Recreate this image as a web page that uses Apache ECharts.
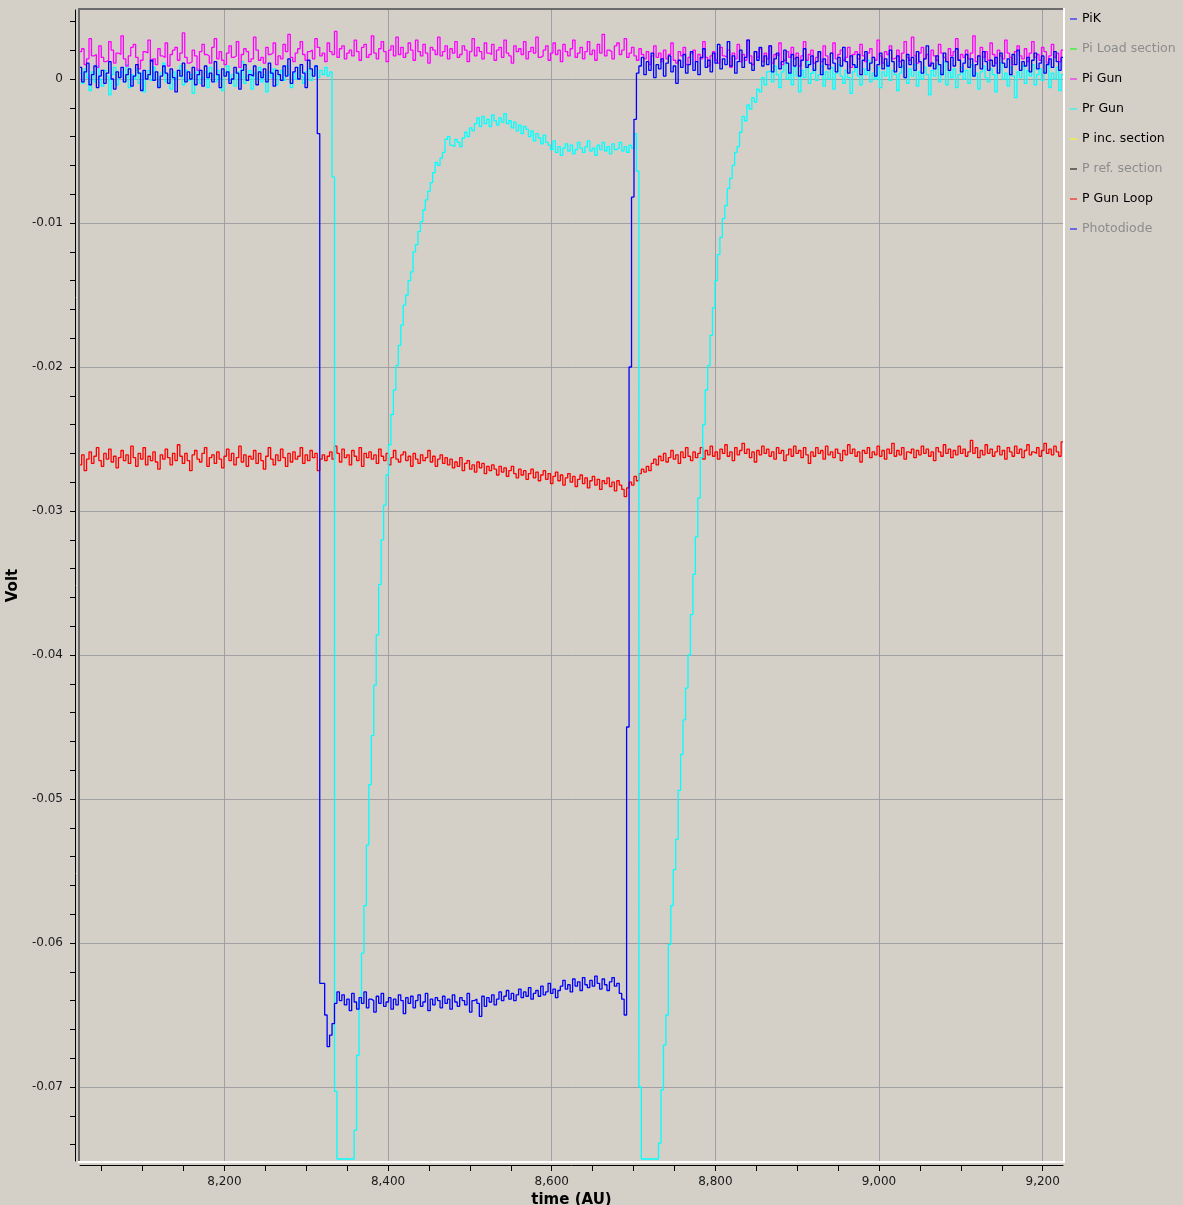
<!DOCTYPE html>
<html>
<head>
<meta charset="utf-8">
<script src="https://cdn.jsdelivr.net/npm/echarts@6/dist/echarts.min.js"></script>
<style>
html,body{margin:0;padding:0;background:#d4d0c8;}
#chart{width:1183px;height:1205px;}
</style>
</head>
<body>
<div id="chart"></div>
<script>
// ---------- DATA (values in mV, sampled every DT time units from T0) ----------
const T0 = 8022.5, DT = 3;

const legendNames = ['PiK', 'Pi Load section', 'Pi Gun', 'Pr Gun', 'P inc. section', 'P ref. section', 'P Gun Loop', 'Photodiode'];
const legendDimmed = ['Pi Load section', 'P ref. section', 'Photodiode'];

const xTickValues = [8050, 8100, 8150, 8200, 8250, 8300, 8350, 8400, 8450, 8500, 8550, 8600, 8650, 8700, 8750, 8800, 8850, 8900, 8950, 9000, 9050, 9100, 9150, 9200];
const xLabelValues = [8200, 8400, 8600, 8800, 9000, 9200];
const yTickValues = [0.004, 0.002, 0, -0.002, -0.004, -0.006, -0.008, -0.01, -0.012, -0.014, -0.016, -0.018, -0.02, -0.022, -0.024, -0.026, -0.028, -0.03, -0.032, -0.034, -0.036, -0.038, -0.04, -0.042, -0.044, -0.046, -0.048, -0.05, -0.052, -0.054, -0.056, -0.058, -0.06, -0.062, -0.064, -0.066, -0.068, -0.07, -0.072, -0.074];
const yLabelValues = [0, -0.01, -0.02, -0.03, -0.04, -0.05, -0.06, -0.07];

// PiK (blue)
const pikMV = [
0.8,-0.2,0.5,1.1,-0.4,0.3,0.9,-0.6,0.2,0.6,
-0.3,0.4,1.2,0.0,-0.7,0.5,0.1,0.8,-0.2,0.3,
0.7,-0.5,0.2,1.0,0.4,-0.8,0.6,0.0,0.3,1.3,
-0.1,0.5,-0.6,0.2,0.9,0.4,-0.3,0.7,0.1,-0.9,
0.6,0.2,1.1,-0.2,0.5,0.0,0.8,-0.4,0.3,0.6,
-0.5,0.9,0.1,0.4,-0.2,1.2,0.3,-0.6,0.7,0.2,
0.5,-0.3,0.0,0.8,0.4,-0.7,0.6,1.0,-0.1,0.3,
0.2,0.9,-0.4,0.5,0.1,0.7,-0.2,1.1,0.4,-0.5,
0.6,0.3,-0.1,0.9,0.2,1.4,-0.3,0.5,0.8,0.0,
1.0,0.4,-0.6,1.3,0.7,0.2,0.9,
-3.8,
-62.8,-62.8,-65.0,-67.2,-66.4,-65.6,-64.2,-63.4,-64.0,
-63.6,-64.3,-63.9,-64.7,-63.5,-64.1,-64.6,-63.8,-64.2,-63.4,
-64.5,-63.9,-64.0,-64.8,-63.7,-64.2,-63.5,-64.4,-64.1,-63.8,
-64.6,-63.9,-64.3,-63.6,-64.0,-64.9,-63.8,-64.2,-63.7,-64.5,
-64.0,-63.6,-64.4,-64.1,-63.5,-64.7,-63.9,-64.3,-63.8,-64.0,
-64.5,-63.7,-64.2,-63.9,-64.6,-63.6,-64.1,-64.4,-63.8,-64.0,
-64.3,-63.5,-64.8,-64.0,-63.9,-64.2,-65.1,-63.7,-64.4,-63.8,
-64.1,-63.6,-64.3,-63.9,-63.4,-64.0,-63.7,-63.3,-63.9,-63.5,
-64.0,-63.6,-63.2,-63.8,-63.4,-63.7,-63.1,-63.9,-63.5,-63.3,
-63.7,-63.0,-63.6,-63.4,-62.8,-63.5,-63.2,-63.8,-63.3,-63.0,
-62.6,-63.2,-62.9,-63.4,-62.5,-63.0,-62.7,-63.3,-62.4,-62.9,
-63.1,-62.6,-63.0,-62.3,-62.8,-63.2,-62.5,-62.9,-63.3,-62.7,
-62.4,-63.0,-62.8,-63.5,-63.9,
-65.0,-45.0,-20.0,-8.2,-2.8,0.4,
0.9,1.5,0.3,1.2,0.6,1.8,0.1,1.0,0.7,1.4,
0.2,1.1,1.6,0.5,0.9,-0.3,1.3,0.8,1.7,0.4,
1.0,1.9,0.6,1.2,0.3,1.5,2.1,0.8,1.3,0.5,
1.8,1.1,2.4,0.7,1.4,1.0,2.6,0.9,1.6,0.4,
1.2,2.0,0.8,1.5,2.7,1.1,0.6,1.9,1.3,2.2,
0.9,1.6,1.0,2.3,0.5,1.4,1.8,0.7,1.2,2.0,
1.1,0.4,1.7,0.9,1.5,0.2,1.3,2.1,0.8,1.0,
1.6,0.6,1.2,1.9,0.3,1.4,1.0,0.7,1.8,1.1,
0.5,1.5,0.9,2.2,1.2,0.4,1.6,1.0,0.8,1.7,
0.3,1.3,1.9,0.6,1.1,1.5,0.2,1.0,1.8,0.7,
1.4,0.9,2.0,1.2,0.5,1.6,0.8,1.3,0.1,1.7,
1.0,1.5,0.6,1.9,1.2,0.4,1.4,2.3,0.9,1.1,
0.7,1.6,1.0,0.3,1.8,1.2,0.6,1.5,0.9,2.1,
1.3,0.5,1.1,1.7,0.8,1.4,0.2,1.0,1.6,0.7,
1.9,1.2,0.6,1.3,0.9,1.5,0.4,1.8,1.1,0.8,
1.4,0.3,1.7,1.0,2.0,0.6,1.2,0.9,1.5,0.5,
1.3,1.8,0.7,1.1,1.6,0.4,1.0,1.4,0.8,1.9,
1.2,0.6,1.5,1.0
];

// Pr Gun (cyan)
const prGunMV = [
0.4,-0.3,0.7,0.1,-0.8,0.5,-0.2,0.9,0.0,-0.5,
0.6,0.2,-1.1,0.3,0.8,-0.4,0.1,0.5,-0.2,1.0,
-0.6,0.3,0.0,0.7,-0.3,0.4,-0.9,0.2,0.6,-0.1,
0.8,0.1,-0.5,0.4,1.1,-0.2,0.3,-0.7,0.5,0.0,
0.2,0.9,-0.4,0.6,-0.1,0.3,-1.0,0.4,0.7,-0.3,
0.1,0.5,-0.6,0.8,0.2,-0.2,0.6,0.0,-0.8,0.4,
0.9,-0.1,0.3,-0.5,0.5,0.1,1.2,-0.3,0.2,0.6,
-0.7,0.4,0.0,0.8,-0.2,0.3,-0.9,0.5,0.1,0.7,
-0.4,0.2,0.6,-0.1,0.9,0.3,-0.6,0.4,0.0,0.8,
0.2,-0.3,0.5,0.7,-0.1,0.4,0.9,0.1,0.6,0.3,
0.8,0.2,0.5,
-6.8,-70.3,
-75.0,-75.0,-75.0,-75.0,-75.0,-75.0,-75.0,
-73.0,-67.8,-64.0,-60.7,-57.4,-53.2,-49.0,-45.6,-42.1,-38.6,
-35.1,-32.0,-29.6,-27.5,-25.4,-23.3,-21.6,-19.9,-18.5,-17.1,
-15.7,-15.0,-14.0,-13.4,-12.0,-11.5,-10.6,-9.9,-9.1,-8.4,
-7.8,-7.2,-6.5,-5.8,-6.0,-5.5,-5.1,-4.2,-4.0,-4.6,
-4.7,-4.2,-4.4,-4.7,-4.1,-3.7,-4.0,-3.4,-3.6,-3.1,
-2.7,-3.3,
-2.6,-3.1,-2.8,-3.3,-2.5,-2.9,-3.2,-2.7,-3.0,-2.4,-3.1,
-2.9,-3.4,-3.0,-3.6,-3.2,-3.8,-3.3,-3.5,-4.0,-3.6,-4.3,-3.8,-4.1,-4.5,-3.9,-4.4,
-4.6,-4.9,-4.3,-5.1,-4.7,-5.3,-4.8,-4.5,-5.0,-4.6,
-5.2,-4.9,-4.4,-4.8,-5.1,-4.7,-4.3,-5.0,-4.8,-5.3,
-4.6,-4.9,-4.4,-5.0,-4.7,-5.2,-4.5,-4.9,-4.8,-4.4,
-5.0,-4.7,-5.1,-4.6,-4.8,
-3.8,-6.4,-70.0,
-75.0,-75.0,-75.0,-75.0,-75.0,-75.0,-75.0,
-73.9,-70.2,-67.1,-65.0,-60.1,-57.4,-54.9,-52.8,-49.4,-46.9,
-44.5,-42.3,-40.0,-37.2,-34.4,-31.8,-29.1,-26.3,-24.0,-21.6,
-19.9,-17.8,-15.9,-14.0,-12.2,-11.0,-9.7,-8.8,-7.6,-6.9,
-6.0,-5.1,-4.7,-3.7,-2.6,-2.9,-1.8,-2.1,-1.3,-1.6,
-0.7,-0.9,0.1,-0.4,0.5,
0.6,-0.2,0.9,0.3,-0.6,0.5,1.1,0.0,0.4,-0.4,
0.8,0.2,-0.9,0.6,0.1,1.2,-0.3,0.4,0.7,-0.1,
0.3,0.9,-0.5,0.5,0.0,0.8,-0.7,0.4,1.0,0.2,
-0.3,0.6,0.1,-1.0,0.5,0.9,0.2,-0.4,0.7,0.3,
1.3,-0.2,0.4,0.0,0.8,-0.6,0.5,0.2,1.1,-0.1,
0.6,0.3,-0.8,0.4,0.9,0.1,-0.3,0.7,0.2,1.0,
-0.5,0.5,0.0,0.8,0.3,-1.1,0.6,0.2,0.9,-0.2,
0.4,1.2,-0.4,0.5,0.1,0.7,-0.6,0.3,0.8,0.0,
0.6,-0.3,1.0,0.2,0.4,-0.7,0.5,0.9,0.1,-0.2,
0.7,0.3,-0.9,0.6,1.1,0.0,0.4,-0.5,0.8,0.2,
-1.3,0.5,0.1,0.9,-0.3,0.6,0.2,1.0,-0.4,0.3,
0.7,-0.1,0.5,1.2,-0.6,0.4,0.0,0.8,-0.8,0.3,
0.6
];

// Pi Gun (magenta)
const piGunMV = [
1.9,2.1,1.0,1.4,2.8,1.6,1.7,0.8,2.3,1.5,
1.2,1.3,2.6,2.0,1.1,1.8,1.7,3.0,1.4,0.9,
1.6,2.2,2.4,1.5,0.7,1.3,1.9,1.8,2.7,1.2,
1.4,1.0,2.1,1.6,1.5,2.5,0.9,1.7,2.0,2.2,
1.3,1.8,3.2,1.5,1.1,1.2,2.0,1.6,0.6,1.9,
2.4,1.7,1.6,1.1,2.2,2.8,1.4,1.9,1.3,1.0,
1.8,2.3,1.5,1.6,2.6,0.8,1.7,2.1,1.9,1.2,
1.4,2.9,2.0,1.3,1.5,1.1,2.2,1.7,1.8,2.5,
1.0,1.6,1.4,2.4,1.9,3.1,1.5,1.2,1.8,2.1,
2.6,1.7,1.3,1.9,2.0,1.4,2.8,2.2,1.6,1.8,
1.2,2.5,1.9,1.7,3.3,1.5,2.1,2.3,1.4,1.8,
2.0,1.6,2.7,1.9,1.3,2.2,2.4,1.5,1.7,3.0,
1.8,1.4,2.1,2.6,1.9,1.2,2.0,2.3,1.6,2.9,
1.7,2.2,1.5,1.8,2.5,2.0,1.3,2.7,1.9,1.6,
2.4,1.8,1.1,2.2,2.0,1.7,2.9,1.6,1.9,2.3,
1.4,2.1,1.8,2.6,1.5,1.7,2.3,2.0,1.2,1.9,
2.8,1.6,2.2,1.9,1.4,2.5,1.8,1.7,2.4,1.3,
2.0,2.2,1.5,2.7,1.8,1.6,1.1,2.3,1.9,2.1,
1.7,2.6,1.4,1.9,2.2,1.8,2.9,1.5,1.6,2.0,
2.3,1.3,1.8,2.5,1.7,2.0,1.2,2.4,1.9,1.6,
2.1,2.7,1.5,1.8,2.2,1.4,1.9,2.6,1.7,2.0,
1.3,2.4,1.8,3.1,1.6,2.0,1.9,1.4,2.3,2.5,
1.7,2.0,2.8,1.5,1.8,2.2,1.6,1.3,2.1,1.7,
1.4,1.9,1.0,1.6,2.3,1.5,1.8,1.2,2.0,1.4,
1.7,2.5,1.3,1.1,1.9,1.6,2.2,1.0,1.5,1.8,
2.0,1.2,1.7,1.4,2.6,1.5,0.9,1.6,1.9,1.3,
1.1,2.2,1.6,1.5,2.0,0.8,1.8,1.4,2.4,1.2,
1.7,1.3,2.7,1.6,1.0,1.9,1.5,2.1,1.2,1.8,
1.4,2.3,1.1,1.7,1.6,2.5,1.0,1.3,1.9,1.5,
2.2,1.4,1.8,0.9,1.6,2.6,1.3,1.7,2.0,1.1,
1.5,1.9,1.2,2.3,1.6,1.0,1.8,2.5,1.4,1.7,
2.0,1.3,1.5,2.2,0.8,1.7,1.9,1.4,2.4,1.6,
1.2,1.8,2.1,1.5,1.3,2.7,1.6,1.1,1.9,1.7,
2.3,1.4,1.5,2.0,1.2,1.8,2.6,1.5,1.3,2.9,
1.6,1.1,1.8,2.2,1.4,1.7,1.0,2.0,1.6,1.3,
2.4,1.8,1.5,1.2,2.1,1.6,1.9,2.8,1.3,1.7,
1.5,2.0,1.4,1.8,3.0,1.2,1.6,2.2,1.5,1.9,
1.3,2.5,1.7,1.1,2.0,1.6,1.4,2.7,1.8,1.5,
1.0,1.9,2.3,1.6,1.4,2.1,1.2,1.8,2.6,1.5,
1.7,1.3,2.2,1.9,1.1,1.6,2.4,1.5,1.8,1.2,
2.0,1.6
];

// P Gun Loop (red)
const pGunLoopMV = [
-26.8,-26.1,-27.2,-26.4,-25.9,-26.7,-26.2,-25.6,-26.5,-26.9,
-26.0,-26.4,-25.7,-26.6,-26.2,-27.0,-26.3,-25.8,-26.5,-26.1,
-26.7,-25.5,-26.3,-26.9,-26.0,-26.4,-25.6,-26.8,-26.2,-26.5,
-25.9,-26.6,-27.1,-26.1,-26.4,-25.7,-26.3,-26.8,-26.0,-26.5,
-25.4,-26.2,-26.7,-26.0,-26.5,-27.2,-26.1,-25.8,-26.4,-26.6,
-26.0,-25.6,-26.9,-26.3,-26.1,-26.7,-25.9,-26.4,-27.0,-26.2,
-25.7,-26.5,-26.0,-26.8,-26.3,-25.5,-26.6,-26.1,-26.9,-26.2,
-26.4,-25.8,-26.7,-26.0,-26.5,-27.1,-26.2,-25.6,-26.4,-26.8,
-26.1,-26.5,-25.7,-26.3,-26.9,-26.0,-26.6,-25.9,-26.4,-26.2,
-25.6,-26.7,-26.1,-26.5,-25.8,-26.3,-26.0,-27.2,-26.4,-26.1,
-26.5,-26.2,-25.9,-26.4,-25.5,-26.0,-26.6,-25.7,-26.3,-26.1,
-26.8,-25.8,-26.2,-26.5,-25.6,-26.9,-26.0,-26.3,-25.9,-26.4,
-26.1,-26.7,-25.7,-26.2,-26.5,-26.0,-26.8,-26.3,-25.8,-26.4,
-26.6,-26.1,-25.9,-26.5,-26.2,-26.9,-26.0,-26.4,-26.7,-26.1,
-26.5,-26.3,-25.8,-26.6,-26.2,-26.9,-26.4,-26.1,-26.7,-26.3,
-26.8,-26.4,-27.0,-26.6,-26.9,-26.3,-27.2,-26.7,-26.5,-27.1,
-26.8,-27.3,-26.6,-27.0,-26.7,-27.4,-26.9,-27.2,-26.8,-27.1,
-27.5,-26.9,-27.3,-27.0,-27.6,-27.2,-26.9,-27.4,-27.7,-27.1,
-27.5,-27.2,-27.8,-27.4,-27.1,-27.7,-27.3,-27.9,-27.5,-27.2,
-27.8,-27.4,-28.1,-27.6,-27.3,-27.9,-27.5,-28.2,-27.7,-27.4,
-28.0,-27.6,-28.3,-27.8,-27.5,-28.1,-27.7,-28.4,-27.9,-27.6,
-28.2,-27.8,-28.5,-27.9,-28.1,-27.7,-28.3,-28.0,-28.6,-27.9,
-28.2,-28.5,-29.0,-28.4,-28.0,-28.2,-27.6,-27.9,-27.4,-27.1,
-27.3,-26.9,-27.2,-26.7,-26.4,-26.8,-26.2,-26.5,-26.0,-26.6,
-26.3,-25.8,-26.4,-26.1,-26.7,-25.9,-26.3,-25.6,-26.2,-26.5,
-25.9,-26.3,-26.0,-25.6,-26.4,-25.8,-26.1,-25.5,-26.2,-25.9,
-26.4,-25.7,-26.0,-25.4,-26.2,-25.9,-26.5,-25.6,-26.1,-25.8,
-25.3,-26.0,-25.7,-26.3,-25.9,-26.6,-25.8,-26.1,-25.5,-26.0,
-25.7,-26.2,-25.9,-26.4,-25.6,-26.0,-25.8,-26.5,-26.1,-25.7,
-26.2,-25.5,-26.0,-25.8,-26.3,-25.6,-26.1,-26.7,-25.9,-26.2,
-25.6,-26.0,-25.8,-26.4,-25.5,-26.1,-25.9,-26.3,-25.7,-26.0,
-26.5,-25.8,-26.1,-25.4,-26.0,-25.7,-26.2,-25.9,-26.6,-25.8,
-26.0,-25.6,-26.3,-25.9,-26.1,-25.5,-26.2,-25.8,-26.4,-25.7,
-26.0,-25.3,-26.2,-25.8,-26.1,-25.6,-26.4,-25.9,-26.0,-25.7,
-26.3,-25.8,-26.1,-25.5,-26.0,-25.7,-26.2,-25.9,-26.5,-25.6,
-25.9,-26.2,-25.4,-26.0,-25.7,-26.3,-25.8,-26.1,-25.5,-26.0,
-25.7,-26.2,-25.9,-25.1,-26.0,-25.6,-26.3,-25.8,-26.1,-25.4,
-26.0,-25.7,-26.2,-25.9,-25.5,-26.1,-25.8,-26.4,-25.6,-25.9,
-26.2,-25.5,-26.0,-25.7,-26.3,-25.8,-25.4,-26.1,-25.9,-26.0,
-25.6,-26.2,-25.8,-25.3,-26.0,-25.7,-26.1,-25.5,-25.9,-26.2,
-25.2,-26.0
];

// Series without a visible trace in the picture
const piLoadMV = [];
const pIncMV = [];
const pRefMV = [];
const photodiodeMV = [];

// ---------- BUILD ----------
const toPairs = mv => mv.map((v, i) => [T0 + i * DT, v / 1000]);

const colors = {
  'PiK': '#0000ff', 'Pi Load section': '#00ff00', 'Pi Gun': '#ff00ff', 'Pr Gun': '#00ffff',
  'P inc. section': '#ffff00', 'P ref. section': '#000000', 'P Gun Loop': '#ff0000', 'Photodiode': '#0000ff'
};
const seriesData = {
  'PiK': pikMV, 'Pi Load section': piLoadMV, 'Pi Gun': piGunMV, 'Pr Gun': prGunMV,
  'P inc. section': pIncMV, 'P ref. section': pRefMV, 'P Gun Loop': pGunLoopMV, 'Photodiode': photodiodeMV
};
// draw order: later = on top
const drawOrder = ['Photodiode', 'P ref. section', 'P inc. section', 'P Gun Loop', 'Pr Gun', 'Pi Gun', 'Pi Load section', 'PiK'];

const FONT = 'DejaVu Sans';
const GRID = { left: 80, top: 10, width: 983, height: 1151 };
const X_MIN = 8023.5, X_MAX = 9224.8;
const Y_MIN = -0.07514, Y_MAX = 0.00479;

const chart = echarts.init(document.getElementById('chart'), null, { renderer: 'canvas' });

const option = {
  backgroundColor: '#d4d0c8',
  animation: false,
  textStyle: { fontFamily: FONT },
  grid: Object.assign({ show: false, containLabel: false, outerBoundsMode: 'none' }, GRID),
  legend: {
    orient: 'vertical',
    left: 1070,
    top: 11,
    padding: 0,
    icon: 'rect',
    itemWidth: 7,
    itemHeight: 1,
    itemGap: 14,
    selectedMode: false,
    textStyle: { fontFamily: FONT, fontSize: 12.5, color: '#000', lineHeight: 16 },
    data: legendNames.map(n => legendDimmed.includes(n)
      ? { name: n, textStyle: { color: '#8c8c8c' } }
      : { name: n })
  },
  xAxis: [
    {
      type: 'value', min: X_MIN, max: X_MAX, position: 'bottom', offset: 4,
      axisLine: { show: true, onZero: false, lineStyle: { color: '#000', width: 1 } },
      axisTick: { show: true, length: 6, customValues: xTickValues, lineStyle: { color: '#000' } },
      axisLabel: {
        customValues: xLabelValues, margin: 11, fontSize: 12, fontFamily: FONT, color: '#1a1a1a',
        formatter: v => Number(v).toLocaleString('en-US')
      },
      splitLine: { show: false },
      name: 'time (AU)', nameLocation: 'middle', nameGap: 22,
      nameTextStyle: { fontFamily: FONT, fontSize: 15, fontWeight: 'bold', color: '#000' }
    },
    {
      type: 'value', min: X_MIN, max: X_MAX, position: 'bottom', splitNumber: 6,
      axisLine: { show: false }, axisLabel: { show: false },
      axisTick: { show: false, customValues: xLabelValues },
      splitLine: { show: true, lineStyle: { color: '#a0a0a4', width: 1 } }
    }
  ],
  yAxis: [
    {
      type: 'value', min: Y_MIN, max: Y_MAX, position: 'left', offset: 5,
      axisLine: { show: true, onZero: false, lineStyle: { color: '#000', width: 1 } },
      axisTick: { show: true, length: 5, customValues: yTickValues, lineStyle: { color: '#000' } },
      axisLabel: {
        customValues: yLabelValues, margin: 12, fontSize: 12, fontFamily: FONT, color: '#1a1a1a',
        formatter: v => (Math.abs(v) < 1e-9 ? '0' : Number(v).toFixed(2))
      },
      splitLine: { show: false },
      name: 'Volt', nameLocation: 'middle', nameGap: 45,
      nameTextStyle: { fontFamily: FONT, fontSize: 15, fontWeight: 'bold', color: '#000' }
    },
    {
      type: 'value', min: Y_MIN, max: Y_MAX, position: 'left', splitNumber: 8,
      axisLine: { show: false }, axisLabel: { show: false },
      axisTick: { show: false, customValues: yLabelValues },
      splitLine: { show: true, lineStyle: { color: '#a0a0a4', width: 1 } }
    }
  ],
  graphic: [
    { type: 'rect', silent: true, z: 50, shape: { x: 78, y: 8, width: 986, height: 2 }, style: { fill: '#6b6b6b' } },
    { type: 'rect', silent: true, z: 50, shape: { x: 78, y: 8, width: 2, height: 1155 }, style: { fill: '#6b6b6b' } },
    { type: 'rect', silent: true, z: 50, shape: { x: 78, y: 1161, width: 987, height: 2 }, style: { fill: '#ffffff' } },
    { type: 'rect', silent: true, z: 50, shape: { x: 1063, y: 8, width: 2, height: 1155 }, style: { fill: '#ffffff' } }
  ],
  series: drawOrder.map(n => ({
    name: n,
    type: 'line',
    xAxisIndex: 0,
    yAxisIndex: 0,
    data: toPairs(seriesData[n]),
    step: 'end',
    symbol: 'none',
    showSymbol: false,
    clip: true,
    silent: true,
    color: colors[n],
    itemStyle: { color: colors[n] },
    lineStyle: { color: colors[n], width: 1.3 },
    emphasis: { disabled: true }
  }))
};

chart.setOption(option);
</script>
</body>
</html>
